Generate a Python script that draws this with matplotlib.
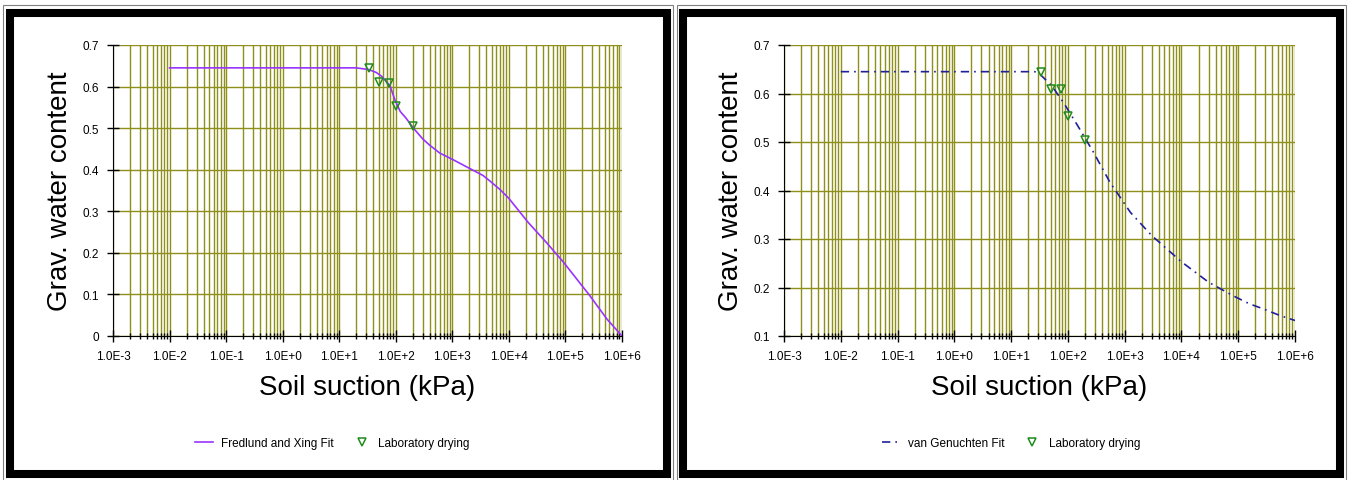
import matplotlib.pyplot as plt
from matplotlib.patches import Rectangle
from matplotlib.ticker import LogLocator, NullFormatter

plt.rcParams['font.family'] = ['Liberation Sans', 'DejaVu Sans']

# laboratory drying points
lab_suction = [34, 50, 77, 100, 201]
lab_water = [0.644, 0.610, 0.609, 0.554, 0.504]

# Fredlund and Xing fit
fx_suction = [0.01, 20, 33, 45, 56, 79, 97, 120, 150, 205, 300, 390, 600, 1000,
              1900, 3500, 4700, 7000, 10000, 22000, 46000, 93000, 270000, 540000, 1000000]
fx_water = [0.645, 0.645, 0.641, 0.634, 0.625, 0.602, 0.567, 0.540, 0.525, 0.500, 0.474, 0.460,
            0.440, 0.425, 0.405, 0.386, 0.372, 0.352, 0.331, 0.273, 0.225, 0.177, 0.097, 0.041, 0.0]

# van Genuchten fit
vg_suction = [0.01, 26, 32, 52, 83, 143, 282, 550, 1260, 3000, 10000, 30000,
              81000, 160000, 275000, 550000, 1000000]
vg_water = [0.645, 0.645, 0.640, 0.616, 0.582, 0.537, 0.479, 0.417, 0.355, 0.307, 0.253, 0.211,
            0.183, 0.166, 0.156, 0.142, 0.132]

x_ticks = [1e-3, 1e-2, 1e-1, 1e0, 1e1, 1e2, 1e3, 1e4, 1e5, 1e6]
x_labels = ['1.0E-3', '1.0E-2', '1.0E-1', '1.0E+0', '1.0E+1',
            '1.0E+2', '1.0E+3', '1.0E+4', '1.0E+5', '1.0E+6']
left_yticks = [0, 0.1, 0.2, 0.3, 0.4, 0.5, 0.6, 0.7]
left_ylabels = ['0', '0.1', '0.2', '0.3', '0.4', '0.5', '0.6', '0.7']
right_yticks = [0.1, 0.2, 0.3, 0.4, 0.5, 0.6, 0.7]
right_ylabels = ['0.1', '0.2', '0.3', '0.4', '0.5', '0.6', '0.7']

W, H = 1351, 481
fig = plt.figure(figsize=(W / 100, H / 100), dpi=100)
grid_col = '#8f8f1c'


def box(x0, y0, x1, y1):
    # pixel box -> figure fraction
    return [x0 / W, 1 - y1 / H, (x1 - x0) / W, (y1 - y0) / H]


def setup(ax, ymin, yticks, ylabels):
    ax.set_xscale('log')
    ax.set_xlim(1e-3, 1e6)
    ax.set_ylim(ymin, 0.7)
    ax.set_xticks(x_ticks)
    ax.set_xticklabels(x_labels)
    ax.xaxis.set_minor_locator(LogLocator(base=10, subs=range(2, 10), numticks=20))
    ax.xaxis.set_minor_formatter(NullFormatter())
    ax.set_yticks(yticks)
    ax.set_yticklabels(ylabels)
    ax.grid(True, which='both', axis='x', color=grid_col, lw=1.0)
    ax.grid(True, which='major', axis='y', color=grid_col, lw=1.0)
    ax.set_axisbelow(True)
    for s in ['top', 'right']:
        ax.spines[s].set_visible(False)
    ax.tick_params(which='major', direction='inout', length=8, width=1, labelsize=8.5, pad=6)
    ax.tick_params(which='minor', direction='inout', length=4, width=1)
    ax.set_xlabel('Soil suction (kPa)', fontsize=20, va='center')
    ax.xaxis.set_label_coords(0.5, -0.175)
    ax.set_ylabel('Grav. water content', fontsize=20, va='center')
    ax.yaxis.set_label_coords(-0.104, 0.5)


# left panel
ax1 = fig.add_axes(box(113, 46, 622, 337))
setup(ax1, 0, left_yticks, left_ylabels)
l1, = ax1.plot(fx_suction, fx_water, color='#9933ff', lw=1.2, label='Fredlund and Xing Fit')
p1, = ax1.plot(lab_suction, lab_water, 'v', ms=6, mfc='none', mec='#1e8c1e', mew=1.1,
               label='Laboratory drying')

# right panel
ax2 = fig.add_axes(box(784, 46, 1295, 337))
setup(ax2, 0.1, right_yticks, right_ylabels)
l2, = ax2.plot(vg_suction, vg_water, color='#20209a', lw=1.2, ls=(0, (5, 3, 1, 3)),
               label='van Genuchten Fit')
p2, = ax2.plot(lab_suction, lab_water, 'v', ms=6, mfc='none', mec='#1e8c1e', mew=1.1,
               label='Laboratory drying')

for handles, cx in [([l1, p1], 332), ([l2, p2], 1011)]:
    fig.legend(handles=handles, loc='center', bbox_to_anchor=(cx / W, 1 - 444 / H), ncol=2,
               frameon=False, fontsize=8.5, handlelength=1.6, handletextpad=0.6,
               columnspacing=1.6)

# panel frames: thick black border with a thin grey line outside
for x0, x1, tx0, tx1 in [(9.5, 667, 2.5, 673), (683, 1339.5, 677, 1346)]:
    b = box(x0, 13.5, x1, 475)
    fig.add_artist(Rectangle((b[0], b[1]), b[2], b[3], transform=fig.transFigure,
                             fill=False, ec='black', lw=5.8))
    b = box(tx0, 6, tx1, 482)
    fig.add_artist(Rectangle((b[0], b[1]), b[2], b[3], transform=fig.transFigure,
                             fill=False, ec='#808080', lw=0.8))

plt.savefig('out.png')
